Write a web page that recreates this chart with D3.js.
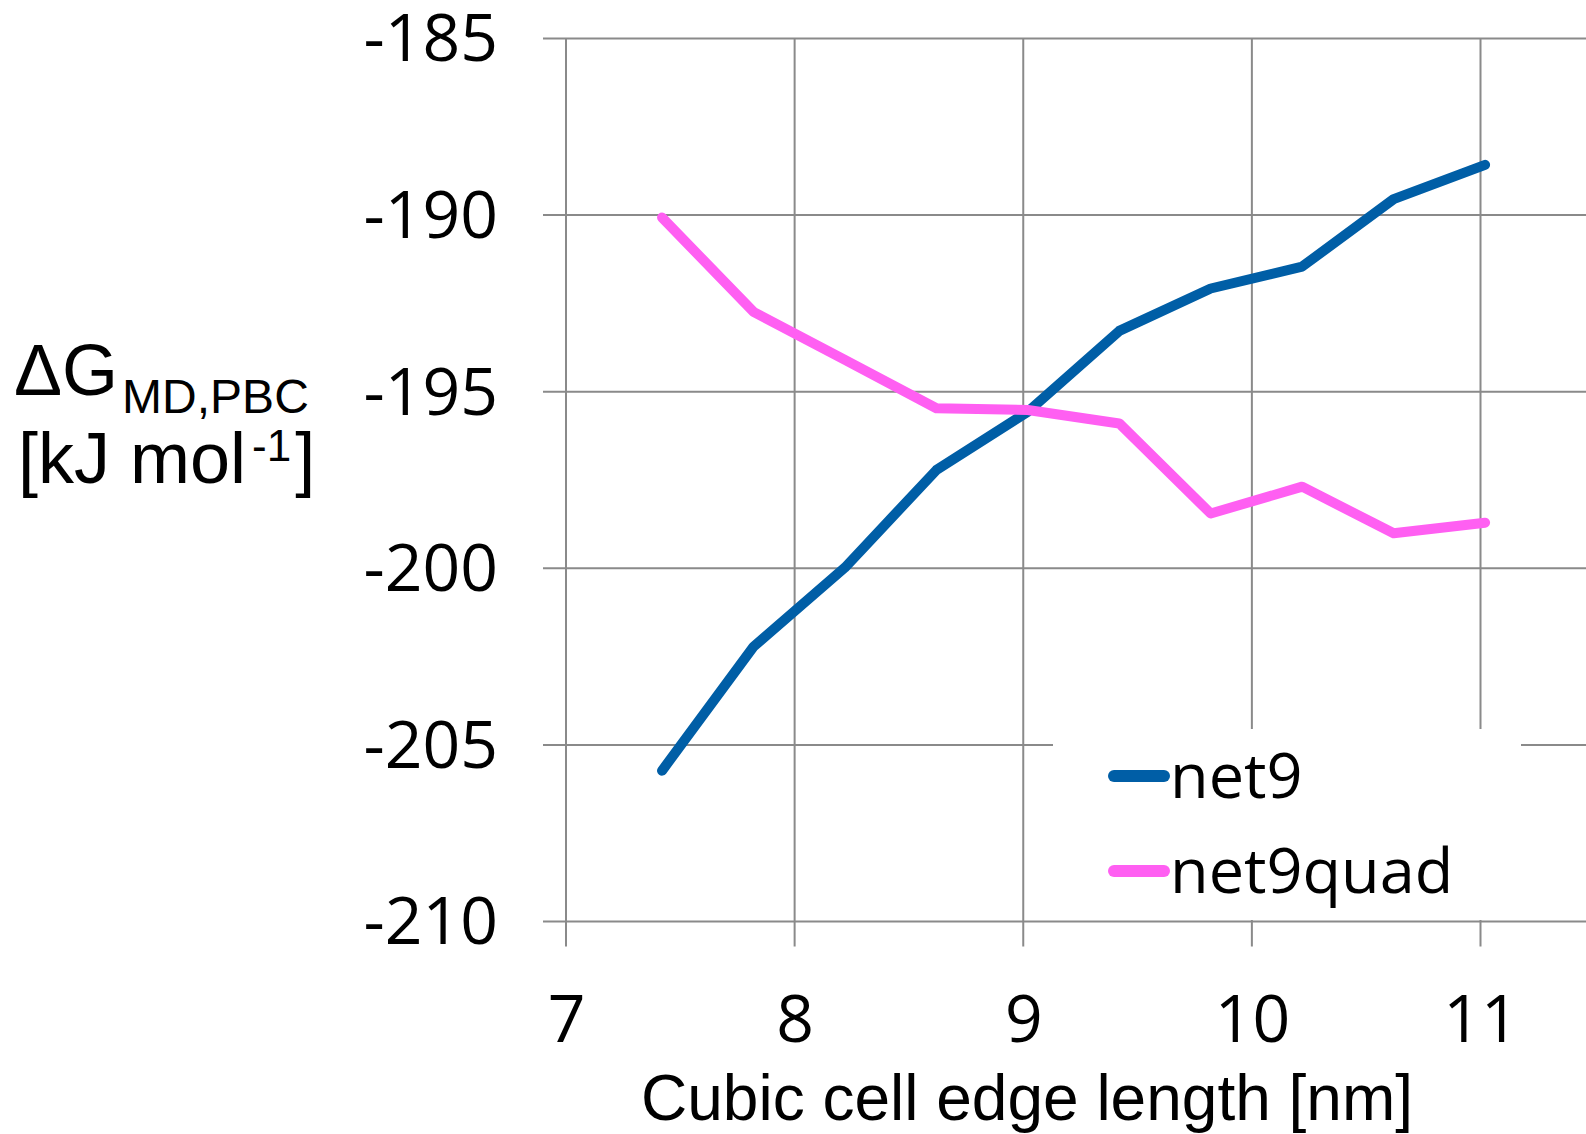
<!DOCTYPE html>
<html>
<head>
<meta charset="utf-8">
<script src="https://cdn.jsdelivr.net/npm/d3@7"></script>
<style>
  body { margin: 0; background: #fff; }
  svg { display: block; }
</style>
</head>
<body>
<div id="chart"></div>
<script>
// cubic cell edge length [nm]
const edgeLength = [7.42, 7.82, 8.22, 8.62, 9.02, 9.42, 9.82, 10.22, 10.62, 11.02];
// dG MD,PBC [kJ/mol]
const net9 = [-205.73, -202.22, -199.98, -197.22, -195.57, -193.28, -192.08, -191.46, -189.55, -188.58];
const net9quad = [-190.07, -192.74, -194.1, -195.47, -195.52, -195.9, -198.45, -197.69, -199.01, -198.71];

const xTicks = [7, 8, 9, 10, 11];
const yTicks = [-185, -190, -195, -200, -205, -210];

const seriesNames = ["net9", "net9quad"];
const seriesColors = ["#005ea6", "#ff5ff2"];

const W = 1586, H = 1134;
const tickFont = "'Open Sans', 'Noto Sans', sans-serif";
const titleFont = "'Liberation Sans', Arial, sans-serif";

const svg = d3.select("#chart")
    .append("svg")
    .attr("width", W)
    .attr("height", H);

const x = d3.scaleLinear().domain([7, 11]).range([566, 1480.5]);
const y = d3.scaleLinear().domain([-210, -185]).range([921.5, 38.4]);

// gridlines
const grid = svg.append("g").attr("stroke", "#8a8a8a").attr("stroke-width", 2);
grid.selectAll("line.h")
    .data(yTicks)
    .enter()
    .append("line")
    .attr("class", "h")
    .attr("x1", x(7) - 23)
    .attr("x2", W)
    .attr("y1", d => y(d))
    .attr("y2", d => y(d));
grid.selectAll("line.v")
    .data(xTicks)
    .enter()
    .append("line")
    .attr("class", "v")
    .attr("x1", d => x(d))
    .attr("x2", d => x(d))
    .attr("y1", y(-185))
    .attr("y2", y(-210) + 25);

// axis labels (plain hyphen, like the original)
const yAxis = svg.append("g")
    .attr("transform", `translate(${x(7)},0)`)
    .call(d3.axisLeft(y).tickValues(yTicks).tickSize(0).tickPadding(68).tickFormat(d => String(d)));
const xAxis = svg.append("g")
    .attr("transform", `translate(0,${y(-210)})`)
    .call(d3.axisBottom(x).tickValues(xTicks).tickSize(0).tickPadding(74).tickFormat(d => String(d)));

[yAxis, xAxis].forEach(ax => {
    ax.select(".domain").remove();
    ax.selectAll("text")
        .attr("font-family", tickFont)
        .attr("font-size", "66px")
        .attr("fill", "#000");
});
yAxis.selectAll("text").attr("dy", "0.34em");

// lines
const line = d3.line()
    .x((d, i) => x(edgeLength[i]))
    .y(d => y(d));

[net9, net9quad].forEach((values, i) => {
    svg.append("path")
        .datum(values)
        .attr("fill", "none")
        .attr("stroke", seriesColors[i])
        .attr("stroke-width", 10)
        .attr("stroke-linejoin", "round")
        .attr("stroke-linecap", "round")
        .attr("d", line);
});

// legend
const legend = svg.append("g");
legend.append("rect")
    .attr("x", 1053)
    .attr("y", 729)
    .attr("width", 468)
    .attr("height", 191)
    .attr("fill", "#fff");

const legendRows = [776, 871];
seriesNames.forEach((name, i) => {
    legend.append("line")
        .attr("x1", 1114)
        .attr("x2", 1164)
        .attr("y1", legendRows[i])
        .attr("y2", legendRows[i])
        .attr("stroke", seriesColors[i])
        .attr("stroke-width", 12)
        .attr("stroke-linecap", "round");
    legend.append("text")
        .attr("x", 1170)
        .attr("y", legendRows[i] + 22)
        .attr("font-family", tickFont)
        .attr("font-size", "63px")
        .attr("fill", "#000")
        .text(name);
});

// x axis title
svg.append("text")
    .attr("x", 1027)
    .attr("y", 1120)
    .attr("text-anchor", "middle")
    .attr("font-family", titleFont)
    .attr("font-size", "64px")
    .attr("fill", "#000")
    .text("Cubic cell edge length [nm]");

// y axis title, two lines with sub/superscripts
const yt1 = svg.append("text")
    .attr("x", 14)
    .attr("y", 395)
    .attr("font-family", titleFont)
    .attr("font-size", "72px")
    .attr("fill", "#000");
yt1.append("tspan").text("ΔG");
yt1.append("tspan").attr("dx", 4).attr("dy", 18).attr("font-size", "48px").text("MD,PBC");

const yt2 = svg.append("text")
    .attr("x", 18)
    .attr("y", 483)
    .attr("font-family", titleFont)
    .attr("font-size", "72px")
    .attr("fill", "#000");
yt2.append("tspan").text("[kJ mol");
yt2.append("tspan").attr("dx", 6).attr("dy", -22).attr("font-size", "44px").text("-1");
yt2.append("tspan").attr("dx", 4).attr("dy", 22).text("]");
</script>
</body>
</html>
